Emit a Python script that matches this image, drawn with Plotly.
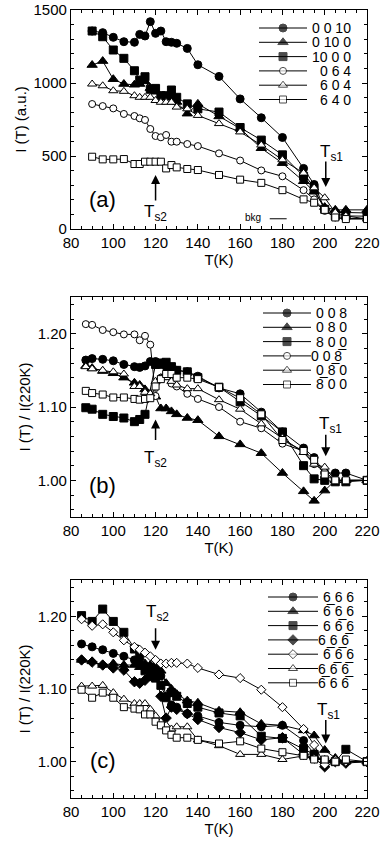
import plotly.graph_objects as go

# temperatures (K)
T_a = [90, 95, 100, 105, 110, 112.5, 115, 117.5, 120, 122.5, 125, 127.5, 130,
       135, 140, 150, 160, 170, 180, 190, 195, 200, 205, 210, 220]
T_b = [87, 90, 95, 100, 105, 110, 112.5, 115, 117.5, 120, 122.5, 125, 127.5, 130,
       135, 140, 150, 160, 170, 180, 190, 195, 200, 205, 210, 220]
T_c = [85, 90, 95, 100, 105, 110, 112.5, 115, 117.5, 120, 122.5, 125, 127.5, 130,
       135, 140, 150, 160, 170, 180, 190, 195, 200, 205, 210, 220]

# panel (a): I(T) in a.u.
a_0010 = [1356, 1345, 1313, 1283, 1279, 1333, 1322, 1420, 1340, 1356, 1283, 1279, 1272,
          1237, 1125, 1045, 891, 762, 627, 415, 305, 135, 113, 113, 110]
a_0100 = [1123, 1150, 1026, 993, 988, 993, 1011, 965, 940, 910, 905, 900, 870,
          790, 857, 771, 688, 553, 451, 327, 255, 150, 131, 131, 131]
a_1000 = [1356, 1317, 1226, 1169, 1084, 1020, 1043, 957, 963, 913, 913, 952, 902,
          857, 823, 801, 695, 609, 508, 361, 271, 135, 90, 90, 88]
a_064 = [856, 842, 826, 788, 774, 758, 747, 685, 637, 628, 644, 598, 598,
         582, 568, 518, 469, 401, 361, 266, 203, 124, 79, 72, 72]
a_604 = [993, 981, 947, 943, 913, 902, 902, 902, 880, 868, 868, 868, 835,
         823, 778, 722, 665, 575, 474, 383, 282, 214, 113, 90, 68]
a_640 = [495, 477, 477, 479, 445, 445, 461, 461, 461, 461, 415, 438, 422,
         411, 404, 370, 338, 316, 266, 203, 180, 131, 79, 68, 68]

# panel (b): I(T)/I(220K)
b_008 = [1.164, 1.166, 1.165, 1.163, 1.158, 1.155, 1.154, 1.156, 1.162, 1.162, 1.158, 1.155, 1.153,
         1.150, 1.148, 1.142, 1.126, 1.118, 1.093, 1.066, 1.044, 1.031, 1.010, 1.010, 1.010, 1.000]
b_080 = [1.156, 1.153, 1.149, 1.146, 1.140, 1.133, 1.130, 1.124, 1.118, 1.114, 1.098, 1.098, 1.094,
         1.090, 1.085, 1.082, 1.060, 1.049, 1.037, 1.010, 0.985, 0.972, 0.986, 1.000, 1.000, 1.000]
b_800 = [1.099, 1.097, 1.090, 1.087, 1.085, 1.080, 1.083, 1.090, None, 1.158, 1.160, 1.161, 1.155,
         1.150, 1.148, 1.140, 1.127, 1.107, 1.088, 1.066, 1.020, 1.002, 1.000, 0.998, 0.998, 1.000]
b_00m8 = [1.213, 1.212, 1.205, 1.202, 1.199, 1.199, 1.191, 1.197, 1.185, 1.115, 1.140, 1.142, 1.132,
          1.128, 1.118, 1.111, 1.100, 1.080, 1.071, 1.050, 1.040, 1.022, 1.012, 1.000, 1.000, 1.000]
b_0m80 = [1.155, 1.152, 1.150, 1.148, 1.145, 1.128, 1.128, 1.120, 1.118, 1.135, 1.140, 1.140, 1.135,
          1.130, 1.125, 1.125, 1.110, 1.097, 1.077, 1.058, 1.038, 1.022, 1.018, 1.000, 1.000, 1.000]
b_m800 = [1.122, 1.119, 1.117, 1.113, 1.113, 1.111, 1.110, 1.111, 1.112, 1.128, 1.138, 1.145, 1.145,
          1.140, 1.140, 1.138, 1.127, 1.112, 1.090, 1.055, 1.040, 1.028, 1.008, 1.000, 1.000, 1.000]

# panel (c): I(T)/I(220K)
c_666 = [1.162, 1.158, 1.154, 1.149, 1.145, 1.140, 1.135, 1.130, 1.128, 1.125, 1.118, 1.090, 1.078,
         1.075, 1.066, 1.063, 1.054, 1.050, 1.048, 1.050, 1.029, 1.011, 0.998, 1.000, 1.000, 1.000]
c_m666 = [1.140, 1.138, 1.133, 1.135, 1.133, 1.133, 1.130, 1.135, 1.133, 1.130, 1.125, 1.108, 1.100,
          1.093, 1.084, 1.081, 1.070, 1.068, 1.052, 1.050, 1.043, 1.036, 1.016, 1.005, 1.000, 1.000]
c_6m66 = [1.201, 1.193, 1.210, 1.193, 1.178, 1.155, 1.145, 1.125, 1.130, 1.115, 1.105, 1.088, 1.095,
          1.090, 1.080, 1.075, 1.067, 1.063, 1.035, 1.032, 1.018, 1.010, 1.000, 1.000, 1.017, 1.000]
c_66m6 = [1.140, 1.137, 1.133, 1.129, 1.126, 1.110, 1.108, 1.112, 1.118, 1.120, 1.090, 1.060, 1.075,
          1.072, 1.066, 1.058, 1.047, 1.040, 1.030, 1.033, 1.010, 1.005, 0.993, 1.000, 0.998, 1.000]
c_m6m66 = [1.196, 1.187, 1.189, 1.178, 1.167, 1.158, 1.154, 1.150, 1.145, 1.140, 1.135, 1.135, 1.136,
           1.136, 1.135, 1.129, 1.120, 1.115, 1.099, 1.075, 1.045, 1.023, 0.996, 1.002, 1.000, 1.000]
c_6m6m6 = [1.104, 1.104, 1.105, 1.095, 1.086, 1.080, 1.080, 1.080, 1.072, 1.063, 1.055, 1.050, 1.045,
           1.048, 1.048, 1.030, 1.022, 1.010, 1.010, 1.003, 1.008, 1.005, 1.003, 1.000, 1.000, 1.000]
c_m66m6 = [1.099, 1.088, 1.095, 1.088, 1.075, 1.073, 1.072, 1.065, 1.065, 1.055, 1.050, 1.043, 1.037,
           1.033, 1.033, 1.030, 1.025, 1.028, 1.018, 1.013, 1.008, 1.003, 1.003, 1.000, 1.003, 1.000]

OB = "\u0305"  # combining overline (bar over index)

panel_a = [("0 0 10", a_0010, "circle", True), ("0 10 0", a_0100, "triangle-up", True),
           ("10 0 0", a_1000, "square", True), ("0 6 4", a_064, "circle", False),
           ("6 0 4", a_604, "triangle-up", False), ("6 4 0", a_640, "square", False)]
panel_b = [("0 0 8", b_008, "circle", True), ("0 8 0", b_080, "triangle-up", True),
           ("8 0 0", b_800, "square", True), ("0 0 8" + OB, b_00m8, "circle", False),
           ("0 8" + OB + " 0", b_0m80, "triangle-up", False), ("8" + OB + " 0 0", b_m800, "square", False)]
panel_c = [("6 6 6", c_666, "circle", True), ("6" + OB + " 6 6", c_m666, "triangle-up", True),
           ("6 6" + OB + " 6", c_6m66, "square", True), ("6 6 6" + OB, c_66m6, "diamond", True),
           ("6" + OB + " 6" + OB + " 6", c_m6m66, "diamond", False),
           ("6 6" + OB + " 6" + OB, c_6m6m6, "triangle-up", False),
           ("6" + OB + " 6 6" + OB, c_m66m6, "square", False)]

FONT = "Liberation Sans, Arial, sans-serif"
W, H = 382, 841
L, R, TOP, BOT = 71, 15, 10, 43
XR = [80, 220]
# panel boxes in page pixels (top, bottom) and y ranges
boxes = [(10, 229), (297, 517), (580, 798)]
yranges = [[0, 1500], [0.95, 1.25], [0.95, 1.25]]
# legend: key line start/end, text right edge, first row y, row step (page pixels)
legends = [(259, 307, 353, 28, 14.3), (263, 311, 349, 313, 14.3), (268, 318, 356, 597, 14.3)]


def to_data(i, px, py):
    # page pixel -> data coordinates of panel i (used for the legend keys only)
    top, bot = boxes[i]
    y0, y1 = yranges[i]
    x = XR[0] + (px - L) / (W - L - R) * (XR[1] - XR[0])
    y = y0 + (bot - py) / (bot - top) * (y1 - y0)
    return x, y


def marker_of(sym, filled):
    size = 8 if filled else 7
    if sym == "triangle-up":
        size += 1
    return size, ("black" if filled else "white")


fig = go.Figure()
panels = [(T_a, panel_a), (T_b, panel_b), (T_c, panel_c)]
for i, (T, series) in enumerate(panels):
    ax = "" if i == 0 else str(i + 1)
    for name, vals, sym, filled in series:
        size, col = marker_of(sym, filled)
        fig.add_trace(go.Scatter(
            x=T, y=vals, name=name, mode="lines+markers", connectgaps=True,
            xaxis="x" + ax, yaxis="y" + ax, showlegend=False,
            line=dict(color="black", width=1),
            marker=dict(symbol=sym, size=size, color=col, line=dict(color="black", width=1)),
        ))

    # legend keys: short line with the marker in the middle, label to the right
    x0, x1, xt, ly0, step = legends[i]
    for j, (name, vals, sym, filled) in enumerate(series):
        size, col = marker_of(sym, filled)
        py = ly0 + j * step
        ka, ky = to_data(i, x0, py)
        kb, _ = to_data(i, x1, py)
        tx, _ = to_data(i, xt, py)
        fig.add_trace(go.Scatter(
            x=[ka, (ka + kb) / 2, kb], y=[ky] * 3, mode="lines+markers",
            xaxis="x" + ax, yaxis="y" + ax, showlegend=False, hoverinfo="skip",
            line=dict(color="black", width=1),
            marker=dict(symbol=sym, size=[0, size, 0], color=col,
                        line=dict(color="black", width=[0, 1, 0])),
        ))
        fig.add_annotation(xref="x" + ax, yref="y" + ax, x=tx, y=ky, text=name, showarrow=False,
                           xanchor="right", font=dict(size=14, family=FONT, color="black"))

axis_common = dict(showline=True, linecolor="black", linewidth=1.2, mirror="allticks",
                   ticks="inside", ticklen=5, tickcolor="black", showgrid=False, zeroline=False,
                   automargin=False, tickfont=dict(size=15, color="black", family=FONT))
layout = dict(
    width=W, height=H, plot_bgcolor="white", paper_bgcolor="white",
    margin=dict(l=L, r=R, t=TOP, b=BOT), showlegend=False,
    font=dict(family=FONT, color="black"),
)
ph = H - TOP - BOT
for i, (top, bot) in enumerate(boxes):
    ax = "" if i == 0 else str(i + 1)
    dom = [(H - BOT - bot) / ph, (H - BOT - top) / ph]
    layout["xaxis" + ax] = dict(
        axis_common, domain=[0, 1], anchor="y" + ax, range=XR, dtick=20, tick0=80,
        minor=dict(ticks="inside", dtick=5, ticklen=3, tickcolor="black"),
        title=dict(text="T(K)", font=dict(size=15), standoff=0),
    )
    if i == 0:
        ydict = dict(range=yranges[i], dtick=500, tick0=0,
                     minor=dict(ticks="inside", dtick=100, ticklen=3, tickcolor="black"),
                     title=dict(text="I (T) (a.u.)", font=dict(size=15), standoff=3))
    else:
        ydict = dict(range=yranges[i], dtick=0.1, tick0=1.0, tickformat=".2f",
                     minor=dict(ticks="inside", dtick=0.02, ticklen=3, tickcolor="black"),
                     title=dict(text="I (T) / I(220K)", font=dict(size=15), standoff=3))
    layout["yaxis" + ax] = dict(axis_common, domain=dom, anchor="x" + ax, **ydict)
fig.update_layout(**layout)

# text labels and transition arrows
big = dict(size=22, family=FONT, color="black")
ts = dict(size=17, family=FONT, color="black")
notes = [
    ("x", "y", 95, 199, "(a)", big), ("x2", "y2", 95, 0.993, "(b)", big), ("x3", "y3", 95, 1.002, "(c)", big),
    ("x", "y", 120, 110, "T<sub>s2</sub>", ts), ("x", "y", 203, 521, "T<sub>s1</sub>", ts),
    ("x2", "y2", 120, 1.029, "T<sub>s2</sub>", ts), ("x2", "y2", 202.5, 1.075, "T<sub>s1</sub>", ts),
    ("x3", "y3", 121, 1.204, "T<sub>s2</sub>", ts), ("x3", "y3", 202, 1.070, "T<sub>s1</sub>", ts),
    ("x", "y", 166, 78, "bkg", dict(size=10, family=FONT, color="black")),
]
for xr, yr, x, y, txt, f in notes:
    fig.add_annotation(xref=xr, yref=yr, x=x, y=y, text=txt, showarrow=False, font=f)

arrows = [("x", "y", 120, 370, 27), ("x", "y", 200.5, 288, -27),
          ("x2", "y2", 120, 1.083, 22), ("x2", "y2", 200.5, 1.033, -23),
          ("x3", "y3", 120, 1.154, -23), ("x3", "y3", 200.5, 1.025, -25)]
for xr, yr, x, y, ay in arrows:
    fig.add_annotation(xref=xr, yref=yr, x=x, y=y, ax=0, ay=ay, text="", showarrow=True,
                       arrowhead=2, arrowsize=1.2, arrowwidth=1.5, arrowcolor="black")

# background level marker
fig.add_shape(type="line", xref="x", yref="y", x0=174, x1=182, y0=70, y1=70,
              line=dict(color="black", width=1))

# drop the browser's default page margin so the figure sits at the window origin
fig.write_html("out.html", config={"displayModeBar": False},
               post_script="document.body.style.margin='0';")
